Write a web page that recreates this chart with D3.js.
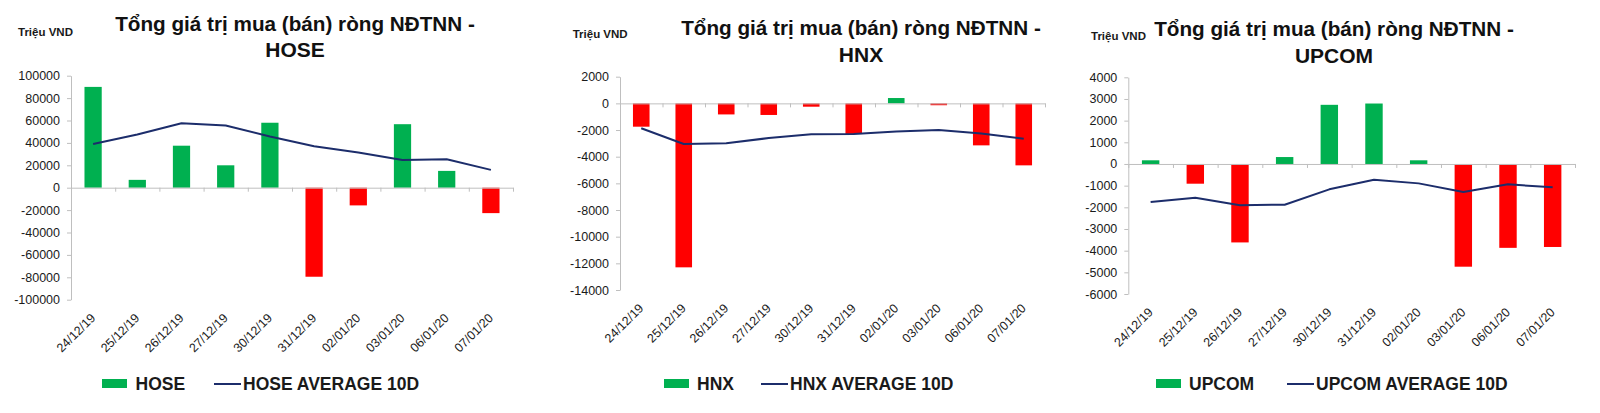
<!DOCTYPE html>
<html><head><meta charset="utf-8">
<script src="https://cdn.jsdelivr.net/npm/d3@7"></script>
<style>
body{margin:0;background:#fff}
svg{display:block}
text{font-family:"Liberation Sans",Arial,sans-serif}
</style>
</head><body>
<svg id="c" width="1600" height="413"></svg>
<script>
// ---------- DATA ----------
const categories = ["24/12/19","25/12/19","26/12/19","27/12/19","30/12/19","31/12/19","02/01/20","03/01/20","06/01/20","07/01/20"];

const hoseValues  = [90000, 7000, 37500, 20000, 58000, -79500, -15800, 56700, 15000, -22700];
const hoseAverage = [39000, 47500, 57500, 55500, 45700, 37000, 31500, 24800, 25400, 15900];
const hoseTicks   = [100000, 80000, 60000, 40000, 20000, 0, -20000, -40000, -60000, -80000, -100000];

const hnxValues  = [-1750, -12300, -830, -870, -250, -2300, 400, -140, -3150, -4650];
const hnxAverage = [-1870, -3050, -3000, -2600, -2320, -2300, -2110, -2000, -2260, -2650];
const hnxTicks   = [2000, 0, -2000, -4000, -6000, -8000, -10000, -12000, -14000];

const upcomValues  = [170, -910, -3620, 320, 2730, 2790, 170, -4740, -3870, -3830];
const upcomAverage = [-1760, -1560, -1900, -1880, -1170, -725, -895, -1290, -940, -1075];
const upcomTicks   = [4000, 3000, 2000, 1000, 0, -1000, -2000, -3000, -4000, -5000, -6000];

const titleLine1 = "Tổng giá trị mua (bán) ròng NĐTNN -";
const unitLabel = "Triệu VND";
const seriesNames = ["HOSE", "HNX", "UPCOM"];
const avgSuffix = " AVERAGE 10D";

// ---------- LAYOUT ----------
const panels = [
  {name: seriesNames[0], values: hoseValues, avg: hoseAverage, ticks: hoseTicks,
   x0: 71, x1: 513, yTop: 75.7, yBot: 299.7,
   titleX: 295, t1: 31, t2: 57, unitX: 18, unitY: 36,
   legRect: 102, legText: 135.5, legLine: 214, legLineText: 243},
  {name: seriesNames[1], values: hnxValues, avg: hnxAverage, ticks: hnxTicks,
   x0: 620, x1: 1045, yTop: 76.7, yBot: 290,
   titleX: 861, t1: 35, t2: 62, unitX: 572.7, unitY: 38,
   legRect: 664, legText: 697, legLine: 761, legLineText: 790},
  {name: seriesNames[2], values: upcomValues, avg: upcomAverage, ticks: upcomTicks,
   x0: 1128.3, x1: 1575, yTop: 77.3, yBot: 294,
   titleX: 1334, t1: 36, t2: 63, unitX: 1091, unitY: 40,
   legRect: 1156, legText: 1189, legLine: 1287, legLineText: 1316}
];

const GREEN = "#00B050", RED = "#FF0000", NAVY = "#1c2d6b", AXIS = "#bfbfbf", TXT = "#1a1a1a";

const svg = d3.select("#c");

panels.forEach(p => {
  const g = svg.append("g");
  const y = d3.scaleLinear()
    .domain([d3.min(p.ticks), d3.max(p.ticks)])
    .range([p.yBot, p.yTop]);
  const x = d3.scaleBand().domain(categories).range([p.x0, p.x1])
    .paddingInner(0.61).paddingOuter(0.305);
  const cx = d => x(d) + x.bandwidth() / 2;

  // titles
  g.append("text").attr("x", p.unitX).attr("y", p.unitY)
    .attr("font-size", 11.5).attr("font-weight", "bold").attr("fill", TXT).text(unitLabel);
  g.append("text").attr("x", p.titleX).attr("y", p.t1).attr("text-anchor", "middle")
    .attr("font-size", 20.7).attr("font-weight", "bold").attr("fill", "#111").text(titleLine1);
  g.append("text").attr("x", p.titleX).attr("y", p.t2).attr("text-anchor", "middle")
    .attr("font-size", 21).attr("font-weight", "bold").attr("fill", "#111").text(p.name);

  // y axis
  const ya = g.append("g").attr("transform", `translate(${p.x0},0)`)
    .call(d3.axisLeft(y).tickValues(p.ticks).tickSize(4).tickSizeOuter(0).tickPadding(7)
      .tickFormat(d => String(d)));
  ya.select(".domain").attr("stroke", AXIS);
  ya.selectAll(".tick line").attr("stroke", AXIS);
  ya.selectAll(".tick text").attr("font-size", 12.5).attr("fill", TXT)
    .attr("font-family", '"Liberation Sans",Arial,sans-serif');

  // bars
  g.selectAll("rect.bar").data(p.values).enter().append("rect")
    .attr("x", (v, i) => x(categories[i]))
    .attr("width", x.bandwidth())
    .attr("y", v => v >= 0 ? y(v) : y(0))
    .attr("height", v => Math.abs(y(v) - y(0)))
    .attr("fill", v => v >= 0 ? GREEN : RED);

  // zero axis with boundary ticks
  const xb = d3.scaleLinear().domain([0, categories.length]).range([p.x0, p.x1]);
  const za = g.append("g").attr("transform", `translate(0,${y(0)})`)
    .call(d3.axisBottom(xb).tickValues(d3.range(0, categories.length + 1))
      .tickSize(4).tickSizeOuter(0).tickFormat(""));
  za.select(".domain").attr("stroke", AXIS);
  za.selectAll(".tick line").attr("stroke", AXIS);

  // category labels at bottom
  const xa = g.append("g").attr("transform", `translate(0,${p.yBot})`)
    .call(d3.axisBottom(x).tickSize(0));
  xa.select(".domain").remove();
  xa.selectAll(".tick text")
    .attr("x", 0).attr("y", 0).attr("dy", 0)
    .attr("transform", "translate(3,19) rotate(-45)")
    .attr("text-anchor", "end")
    .attr("font-size", 12.5).attr("fill", TXT)
    .attr("font-family", '"Liberation Sans",Arial,sans-serif');

  // average line
  g.append("path").datum(p.avg)
    .attr("fill", "none").attr("stroke", NAVY).attr("stroke-width", 2)
    .attr("stroke-linejoin", "round")
    .attr("d", d3.line().x((v, i) => cx(categories[i])).y(v => y(v)));

  // legend
  g.append("rect").attr("x", p.legRect).attr("y", 379).attr("width", 25).attr("height", 9).attr("fill", GREEN);
  g.append("text").attr("x", p.legText).attr("y", 389.5).attr("font-size", 17.5)
    .attr("font-weight", "bold").attr("fill", TXT).text(p.name);
  g.append("line").attr("x1", p.legLine).attr("x2", p.legLine + 27).attr("y1", 384).attr("y2", 384)
    .attr("stroke", NAVY).attr("stroke-width", 2);
  g.append("text").attr("x", p.legLineText).attr("y", 389.5).attr("font-size", 17.5)
    .attr("font-weight", "bold").attr("fill", TXT).text(p.name + avgSuffix);
});
</script>
</body></html>
